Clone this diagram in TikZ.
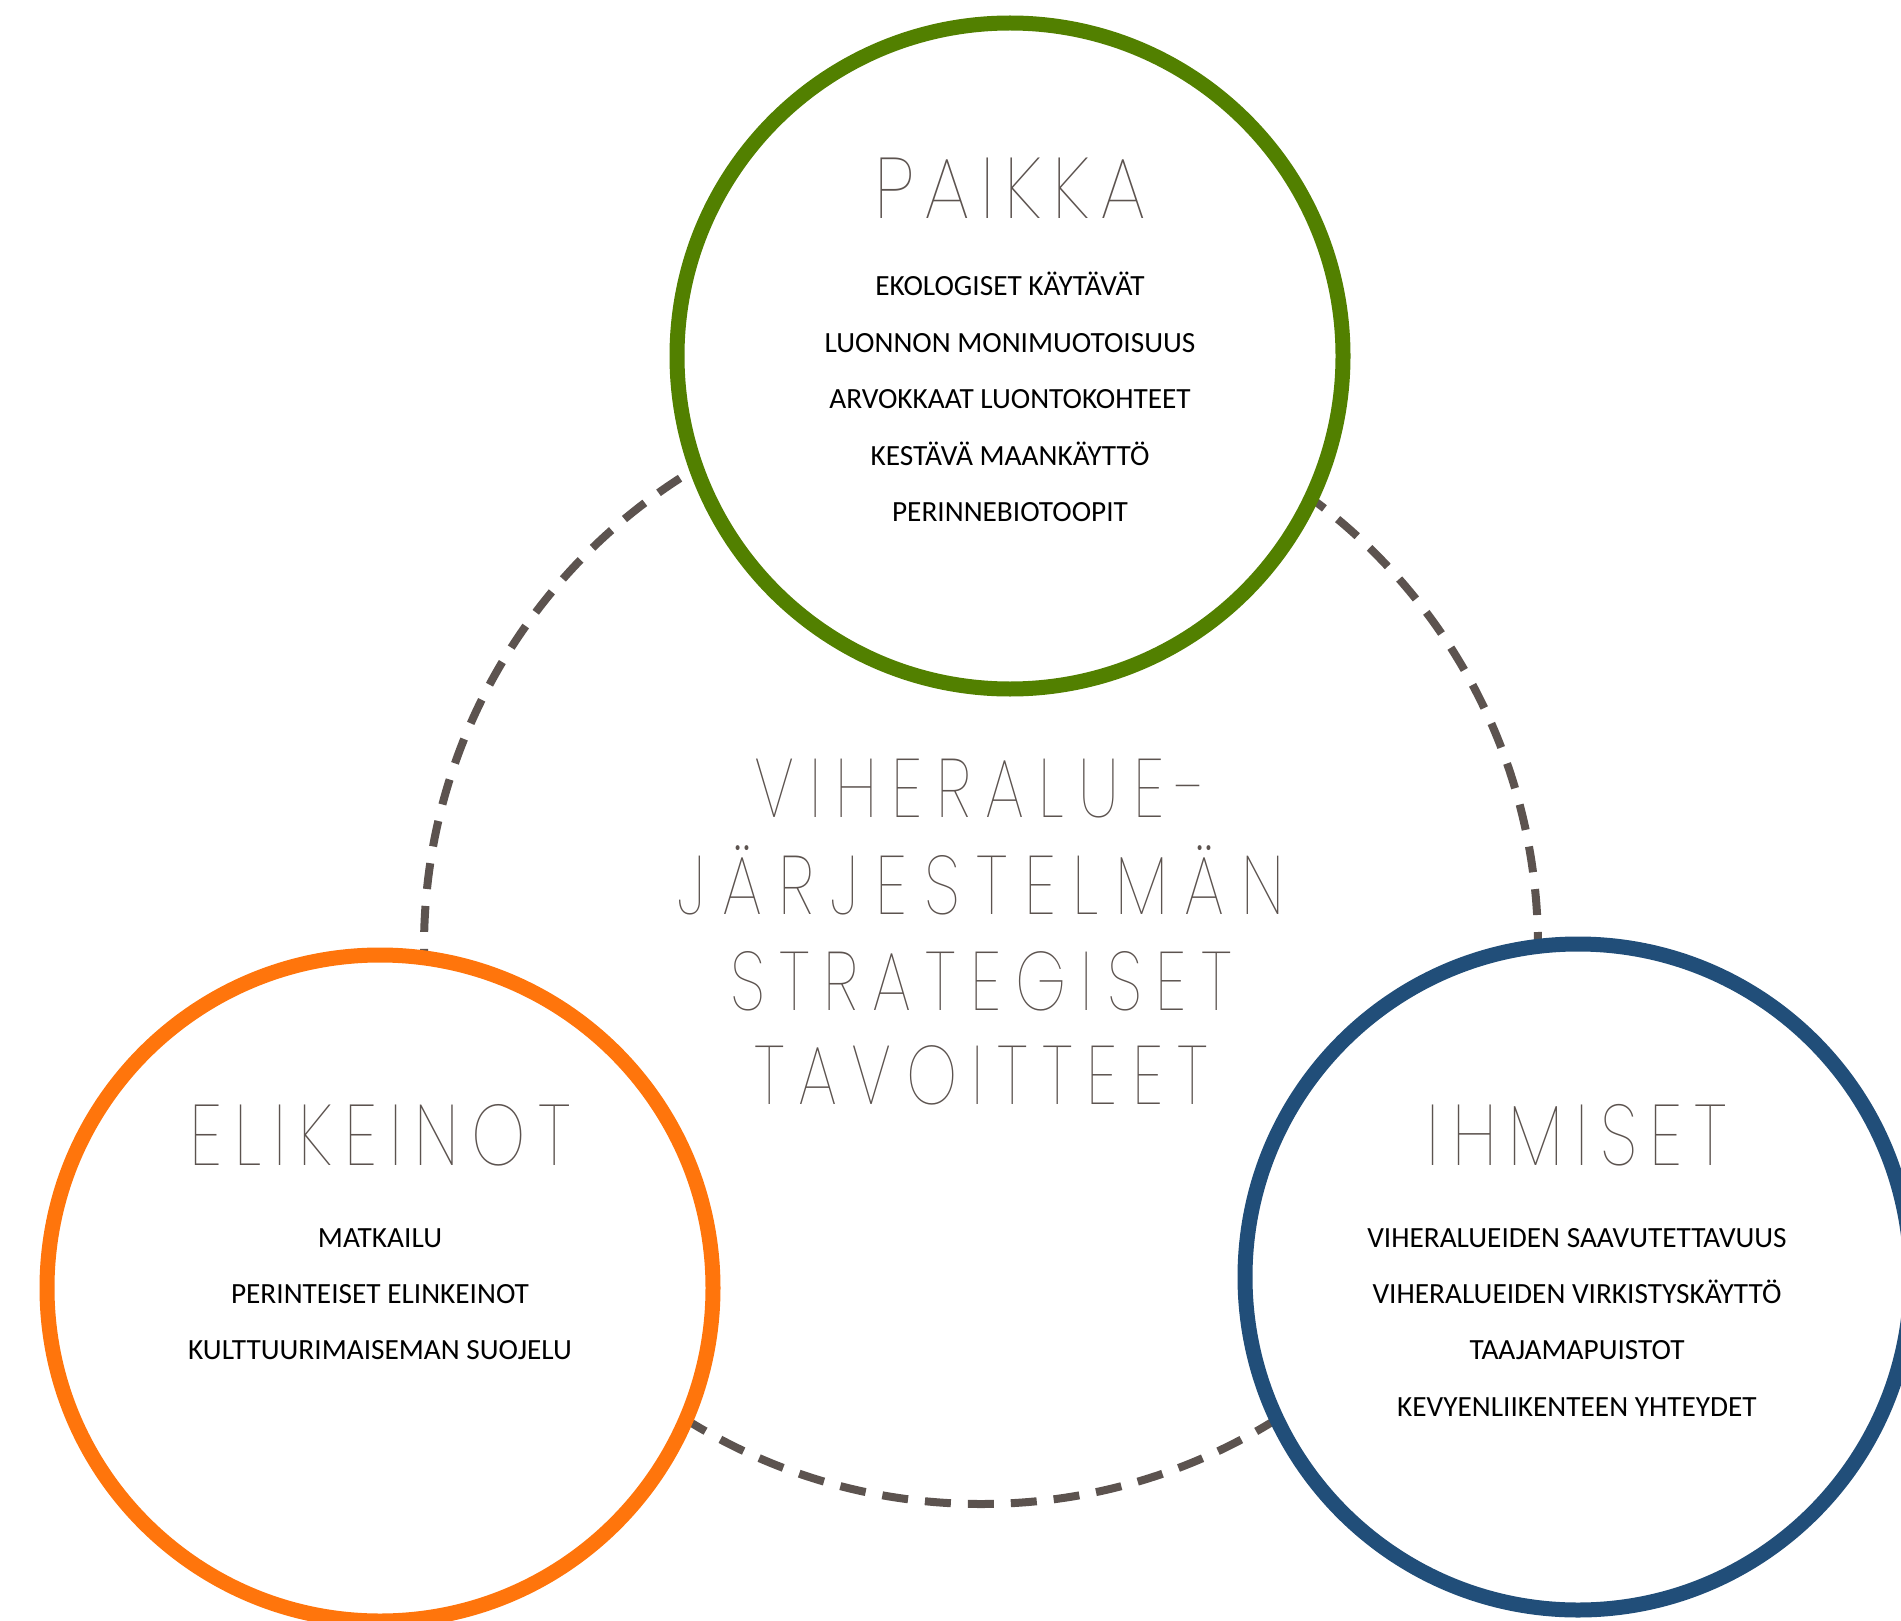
\documentclass[tikz,border=0pt]{standalone}
\usepackage{fontspec}
\setmainfont{Carlito}
\newfontfamily\thinfont{Poppins Thin}[LetterSpace=14,FakeStretch=0.8]
\newfontfamily\placefont{Poppins Thin}[LetterSpace=12,FakeStretch=0.88]
\newfontfamily\condfont{Poppins Thin}[LetterSpace=17,FakeStretch=0.78]
\newfontfamily\condwide{Poppins Thin}[LetterSpace=20,FakeStretch=0.8]
\definecolor{cgreen}{RGB}{82,128,0}
\definecolor{corange}{RGB}{255,117,12}
\definecolor{cblue}{RGB}{33,78,121}
\definecolor{cgrey}{RGB}{92,83,79}
\tikzset{
  bigring/.style={circle,minimum size=666pt,inner sep=0pt,line width=15pt,fill=white,draw=#1},
  hubring/.style={circle,minimum size=1114pt,inner sep=0pt,draw=cgrey,line width=8pt,dash pattern=on 26pt off 17pt,dash phase=11pt},
  ttl/.style={text=cgrey,anchor=base,inner sep=0pt,font=\thinfont\fontsize{86}{86}\selectfont},
  ptl/.style={text=cgrey,anchor=base,inner sep=0pt,font=\placefont\fontsize{86}{86}\selectfont},
  ctr/.style={text=cgrey,anchor=base,inner sep=0pt,font=\condfont\fontsize{83}{83}\selectfont},
  ctrw/.style={ctr,font=\condwide\fontsize{83}{83}\selectfont},
  item/.style={text=black,anchor=base,inner sep=0pt,font=\fontsize{29.3}{29.3}\selectfont}
}
\begin{document}
\begin{tikzpicture}[x=1pt,y=-1pt]
\useasboundingbox (0,0) rectangle (1901,1621);
\node[hubring] (hub) at (981,947) {};
\node[bigring=cgreen] (paikka) at (1010,356) {};
\node[bigring=corange] (elik) at (380,1288) {};
\node[bigring=cblue] (ihm) at (1578,1277) {};
% center title
\node[ctr] (c1) at (981,817) {VIHERALUE-};
\node[ctrw] (c2) at (981,914) {JÄRJESTELMÄN};
\node[ctr] (c3) at (981,1010) {STRATEGISET};
\node[ctr] (c4) at (981,1104) {TAVOITTEET};
% PAIKKA
\node[ptl] (tp) at (1010,219) {PAIKKA};
\foreach \t [count=\i] in {EKOLOGISET KÄYTÄVÄT,LUONNON MONIMUOTOISUUS,ARVOKKAAT LUONTOKOHTEET,KESTÄVÄ MAANKÄYTTÖ,PERINNEBIOTOOPIT}
  \node[item] (p\i) at (1010,{296+(\i-1)*56.4}) {\t};
% ELIKEINOT
\node[ttl] (te) at (380,1165) {ELIKEINOT};
\foreach \t [count=\i] in {MATKAILU,PERINTEISET ELINKEINOT,KULTTUURIMAISEMAN SUOJELU}
  \node[item] (e\i) at (380,{1247+(\i-1)*56.4}) {\t};
% IHMISET
\node[ttl] (ti) at (1577,1165) {IHMISET};
\foreach \t [count=\i] in {VIHERALUEIDEN SAAVUTETTAVUUS,VIHERALUEIDEN VIRKISTYSKÄYTTÖ,TAAJAMAPUISTOT,KEVYENLIIKENTEEN YHTEYDET}
  \node[item] (h\i) at (1577,{1247+(\i-1)*56.4}) {\t};
\end{tikzpicture}
\end{document}
